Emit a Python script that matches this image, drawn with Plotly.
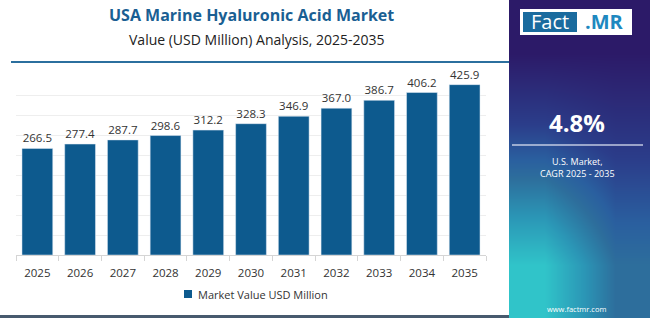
import plotly.graph_objects as go

years = ["2025", "2026", "2027", "2028", "2029", "2030", "2031", "2032", "2033", "2034", "2035"]
values = [266.5, 277.4, 287.7, 298.6, 312.2, 328.3, 346.9, 367.0, 386.7, 406.2, 425.9]
series_name = "Market Value USD Million"
title = "USA Marine Hyaluronic Acid Market"
subtitle = "Value (USD Million) Analysis, 2025-2035"
cagr = "4.8%"
cagr_label = ["U.S. Market,", "CAGR 2025 - 2035"]

# decorative gradient panel (values mapped through a colorscale)
grad_z = [[0.0, 0.0], [0.45, 0.3], [1.0, 0.55]]
grad_scale = [[0.0, "#2c1a68"], [0.3, "#2b3d8a"], [0.45, "#2a5f9f"], [0.55, "#2d6e9c"], [0.75, "#2b96b6"], [1.0, "#30c4c9"]]

W, H = 650, 318
def px(x):
    return x / W
def py(y):
    return 1 - y / H

FONT = "Open Sans"
BAR = "#0d5a8e"
fig = go.Figure()

fig.add_trace(go.Heatmap(z=grad_z, colorscale=grad_scale, zsmooth="best", showscale=False,
                         hoverinfo="skip", xaxis="x2", yaxis="y2", zmin=0, zmax=1))

fig.add_trace(go.Bar(x=years, y=values, name=series_name, marker_color=BAR,
                     text=[f"{v:.1f}" for v in values], textposition="outside",
                     textfont=dict(size=11.5, color="#333333", family=FONT),
                     cliponaxis=False, showlegend=False))

fig.update_layout(
    width=W, height=H, margin=dict(l=0, r=0, t=0, b=0),
    paper_bgcolor="white", plot_bgcolor="rgba(0,0,0,0)",
    font=dict(family=FONT, color="#333333"),
    bargap=0.28,
    xaxis=dict(domain=[px(16), px(486)], anchor="y", type="category",
               tickson="boundaries", ticks="outside", ticklen=5, tickcolor="#d5d5d5",
               showline=True, linecolor="#d5d5d5", linewidth=1, showgrid=False,
               ticklabelstandoff=7,
               tickfont=dict(size=11.5, color="#333333", family=FONT)),
    yaxis=dict(domain=[1 - 255 / H, 1 - 75 / H], anchor="x", range=[0, 450], dtick=50,
               showticklabels=False, showgrid=True, gridcolor="#eeeeee", zeroline=False),
    xaxis2=dict(domain=[px(509), 1], anchor="y2", visible=False, autorange=True),
    yaxis2=dict(domain=[0, 1], anchor="x2", visible=False, autorange="reversed"),
    showlegend=False,
)

shapes = [
    dict(type="line", xref="paper", yref="paper", x0=px(11), x1=px(509), y0=py(62), y1=py(62),
         line=dict(color="#2b6f9e", width=2)),
    dict(type="line", xref="paper", yref="paper", x0=0, x1=px(509), y0=py(316.5), y1=py(316.5),
         line=dict(color="#475a6e", width=3)),
    dict(type="rect", xref="paper", yref="paper", x0=px(520), x1=px(632), y0=py(35), y1=py(9),
         fillcolor="white", line=dict(width=0)),
    dict(type="rect", xref="paper", yref="paper", x0=px(523), x1=px(577), y0=py(32), y1=py(12),
         fillcolor="#1a6b9e", line=dict(width=0)),
    dict(type="line", xref="paper", yref="paper", x0=px(512), x1=px(643), y0=py(145), y1=py(145),
         line=dict(color="rgba(220,225,240,0.85)", width=1.5)),
    # legend swatch
    dict(type="rect", xref="paper", yref="paper", x0=px(184), x1=px(192), y0=py(298), y1=py(290),
         fillcolor=BAR, line=dict(width=0)),
]
fig.update_layout(shapes=shapes)

ann = [
    dict(text=f"<b>{title}</b>", x=px(252), y=py(15), font=dict(size=16, color="#1a5f93", family=FONT)),
    dict(text=subtitle, x=px(257), y=py(40), font=dict(size=14, color="#222222", family=FONT)),
    dict(text="Fact", x=px(550), y=py(22), font=dict(size=20, color="white", family=FONT)),
    dict(text="<b>.MR</b>", x=px(604), y=py(22), font=dict(size=20, color="#1e88c0", family=FONT)),
    dict(text=f"<b>{cagr}</b>", x=px(577), y=py(122), font=dict(size=24, color="white", family=FONT)),
    dict(text=cagr_label[0], x=px(577), y=py(161), font=dict(size=9, color="white", family=FONT)),
    dict(text=cagr_label[1], x=px(577), y=py(173), font=dict(size=9, color="white", family=FONT)),
    dict(text="www.factmr.com", x=px(576), y=py(309), font=dict(size=7.5, color="white", family=FONT)),
]
for a in ann:
    a.update(xanchor="center")
ann.append(dict(text=series_name, x=px(196), y=py(294), xanchor="left",
                font=dict(size=11, color="#333333", family=FONT)))
for a in ann:
    a.update(xref="paper", yref="paper", showarrow=False, yanchor="middle")
fig.update_layout(annotations=ann)

fig.write_html("out.html")
